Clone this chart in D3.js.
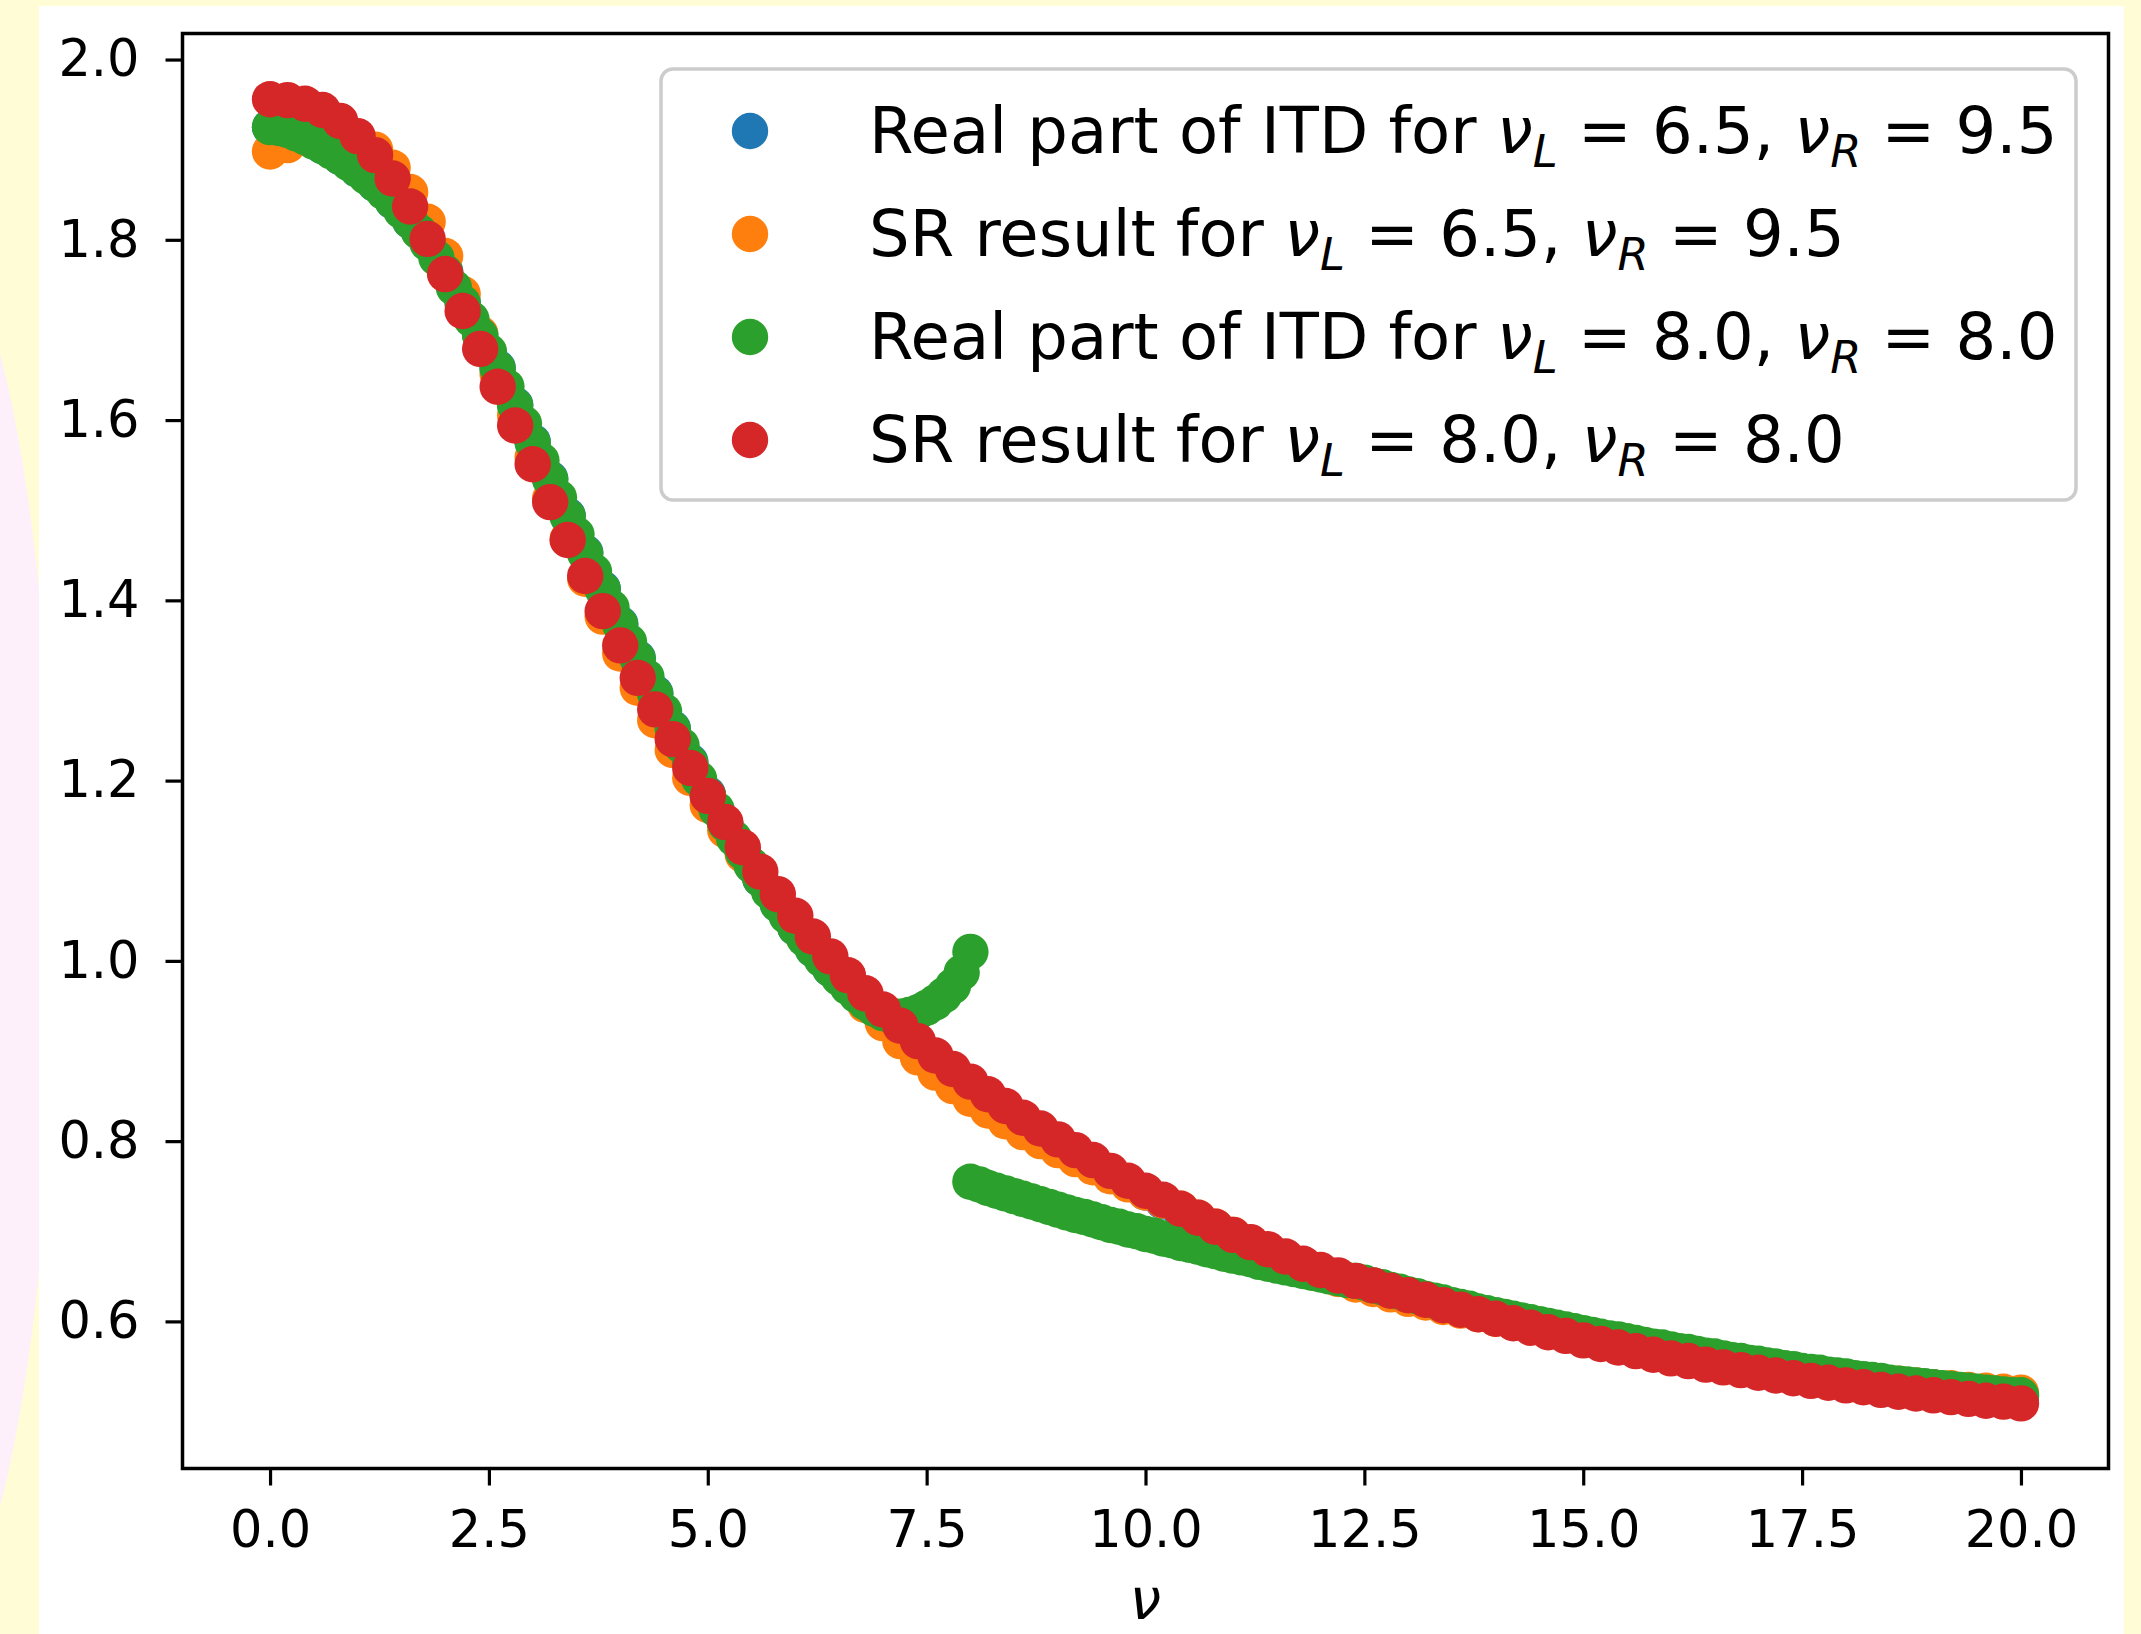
<!DOCTYPE html>
<html>
<head>
<meta charset="utf-8">
<script src="https://cdn.jsdelivr.net/npm/d3@7"></script>
<style>
body { margin: 0; background: #fffcd6; }
svg { display: block; }
text { font-family: "DejaVu Sans", sans-serif; fill: #000; }
</style>
</head>
<body>
<svg class="chartSvg" width="2141" height="1634"></svg>
<script>
// tick labels
var xTicks = [0, 2.5, 5, 7.5, 10, 12.5, 15, 17.5, 20];
var yTicks = [0.6, 0.8, 1.0, 1.2, 1.4, 1.6, 1.8, 2.0];

// Real part of ITD, nuL = 6.5, nuR = 9.5 (two pieces, 0..6.4 and 9.6..20, step 0.2)
var blueLowStart = 0, blueHighStart = 9.6, blueStep = 0.2;
var blueLow = [1.925,1.922,1.914,1.904,1.892,1.878,1.862,1.843,1.821,1.797,
               1.765,1.731,1.695,1.658,1.617,1.576,1.535,1.494,1.453,1.413,
               1.374,1.336,1.297,1.258,1.221,1.185,1.152,1.121,1.091,1.063,
               1.037,1.013,0.991];
var blueHigh = [0.765,0.754,0.743,0.733,0.723,0.713,0.704,0.695,0.687,0.679,
                0.671,0.663,0.656,0.650,0.644,0.639,0.634,0.629,0.624,0.619,
                0.614,0.609,0.604,0.599,0.595,0.590,0.586,0.582,0.578,0.574,
                0.570,0.567,0.563,0.560,0.557,0.554,0.551,0.548,0.545,0.542,
                0.540,0.537,0.535,0.533,0.530,0.528,0.526,0.524,0.522,0.521,
                0.519,0.517,0.516];

// SR result, nuL = 6.5, nuR = 9.5 (0..20, step 0.2)
var orangeStart = 0, orangeStep = 0.2;
var orangeVals = [1.898,1.905,1.915,1.921,1.920,1.913,1.900,1.880,1.853,1.820,
                  1.782,1.740,1.696,1.651,1.605,1.559,1.513,1.468,1.424,1.382,
                  1.341,1.303,1.267,1.234,1.203,1.173,1.145,1.118,1.092,1.067,
                  1.043,1.019,0.996,0.973,0.951,0.931,0.911,0.893,0.876,0.861,
                  0.847,0.834,0.822,0.810,0.800,0.790,0.780,0.771,0.761,0.752,
                  0.743,0.734,0.725,0.715,0.705,0.696,0.687,0.679,0.670,0.662,
                  0.654,0.647,0.641,0.636,0.630,0.625,0.621,0.616,0.612,0.608,
                  0.603,0.599,0.594,0.590,0.586,0.582,0.578,0.574,0.571,0.567,
                  0.564,0.561,0.557,0.554,0.552,0.549,0.546,0.544,0.541,0.539,
                  0.537,0.535,0.533,0.531,0.529,0.527,0.526,0.524,0.523,0.522,
                  0.521];

// Real part of ITD, nuL = nuR = 8.0 (0..8 and 8..20, step 0.1)
var greenLowStart = 0, greenHighStart = 8, greenStep = 0.1;
var greenLow = [1.925,1.924,1.922,1.918,1.914,1.909,1.904,1.898,1.892,1.885,
                1.878,1.870,1.862,1.853,1.843,1.832,1.821,1.809,1.796,1.780,
                1.764,1.747,1.730,1.712,1.694,1.676,1.657,1.637,1.616,1.596,
                1.575,1.555,1.534,1.514,1.493,1.473,1.452,1.432,1.412,1.392,
                1.373,1.354,1.335,1.315,1.296,1.277,1.257,1.239,1.220,1.202,
                1.184,1.168,1.152,1.136,1.121,1.106,1.091,1.077,1.063,1.050,
                1.037,1.025,1.013,1.002,0.991,0.981,0.971,0.962,0.954,0.947,
                0.942,0.939,0.938,0.940,0.943,0.948,0.954,0.962,0.972,0.987,
                1.010];
var greenHigh = [0.755,0.752,0.748,0.745,0.742,0.739,0.736,0.733,0.730,0.727,
                 0.724,0.721,0.718,0.716,0.713,0.710,0.707,0.705,0.702,0.700,
                 0.697,0.695,0.692,0.690,0.687,0.685,0.683,0.680,0.678,0.675,
                 0.673,0.671,0.669,0.666,0.664,0.662,0.660,0.658,0.656,0.654,
                 0.652,0.650,0.648,0.646,0.645,0.643,0.640,0.638,0.635,0.633,
                 0.630,0.628,0.625,0.623,0.621,0.618,0.616,0.614,0.611,0.609,
                 0.607,0.605,0.603,0.601,0.599,0.597,0.595,0.593,0.591,0.589,
                 0.587,0.585,0.583,0.581,0.580,0.578,0.576,0.574,0.572,0.571,
                 0.569,0.567,0.566,0.564,0.562,0.561,0.559,0.557,0.556,0.554,
                 0.553,0.551,0.550,0.548,0.547,0.545,0.544,0.543,0.541,0.540,
                 0.539,0.537,0.536,0.535,0.534,0.532,0.531,0.530,0.529,0.528,
                 0.527,0.526,0.525,0.524,0.523,0.522,0.521,0.520,0.519,0.518,
                 0.518];

// SR result, nuL = nuR = 8.0 (0..20, step 0.2)
var redStart = 0, redStep = 0.2;
var redVals = [1.956,1.955,1.951,1.944,1.932,1.915,1.894,1.868,1.837,1.801,
               1.762,1.721,1.679,1.637,1.594,1.551,1.509,1.467,1.427,1.388,
               1.350,1.314,1.279,1.246,1.214,1.183,1.154,1.126,1.099,1.074,
               1.050,1.027,1.005,0.984,0.964,0.946,0.928,0.911,0.895,0.880,
               0.866,0.852,0.839,0.826,0.814,0.802,0.790,0.779,0.767,0.756,
               0.745,0.735,0.725,0.715,0.705,0.696,0.688,0.680,0.672,0.664,
               0.657,0.651,0.645,0.640,0.634,0.629,0.624,0.618,0.613,0.608,
               0.603,0.598,0.593,0.588,0.584,0.579,0.575,0.571,0.567,0.563,
               0.559,0.556,0.552,0.549,0.546,0.543,0.540,0.537,0.534,0.532,
               0.529,0.527,0.524,0.522,0.520,0.518,0.516,0.514,0.512,0.511,
               0.509];

var legendNames = ["Real part of ITD for", "SR result for", "Real part of ITD for", "SR result for"];
var legendNuL = ["6.5", "6.5", "8.0", "8.0"];
var legendNuR = ["9.5", "9.5", "8.0", "8.0"];
var colors = ["#1f77b4", "#ff7f0e", "#2ca02c", "#d62728"];

var W = 2141, H = 1634;
var margin = {top: 33.5, right: W - 2108.5, bottom: H - 1468.5, left: 182.5},
    width = W - margin.left - margin.right,
    height = H - margin.top - margin.bottom;
var dotR = 18.2;

function toPoints(start, step, vals) {
    return vals.map(function(v, i) {
        return {nu: Math.round((start + i * step) * 100) / 100, value: v};
    });
}

var series = [
    {color: colors[0], pts: toPoints(blueLowStart, blueStep, blueLow).concat(toPoints(blueHighStart, blueStep, blueHigh))},
    {color: colors[1], pts: toPoints(orangeStart, orangeStep, orangeVals)},
    {color: colors[2], pts: toPoints(greenLowStart, greenStep, greenLow).concat(toPoints(greenHighStart, greenStep, greenHigh))},
    {color: colors[3], pts: toPoints(redStart, redStep, redVals)}
];

var root = d3.select(".chartSvg");

// page decoration behind the figure
root.append("rect").attr("width", W).attr("height", H).attr("fill", "#fffcd6");
root.append("ellipse")
    .attr("cx", -72).attr("cy", 930).attr("rx", 127).attr("ry", 700)
    .attr("fill", "#fdf0fa");
root.append("rect")
    .attr("x", 39).attr("y", 6).attr("width", 2124 - 39).attr("height", H - 6)
    .attr("fill", "#ffffff");

var svg = root.append("g")
    .attr("transform", "translate(" + margin.left + "," + margin.top + ")");

var x = d3.scaleLinear().domain([-1, 21]).range([0, width]);
var y = d3.scaleLinear().domain([0.4368, 2.0289]).range([height, 0]);

var xAxis = d3.axisBottom(x).tickValues(xTicks).tickSize(17).tickPadding(25)
    .tickFormat(d3.format(".1f"));
var yAxis = d3.axisLeft(y).tickValues(yTicks).tickSize(17).tickPadding(26)
    .tickFormat(d3.format(".1f"));

// scatter layers, in plotting order
series.forEach(function(s) {
    svg.append("g")
        .selectAll("circle")
        .data(s.pts)
        .enter().append("circle")
        .attr("cx", function(d) { return x(d.nu); })
        .attr("cy", function(d) { return y(d.value); })
        .attr("r", dotR)
        .attr("fill", s.color);
});

var gx = svg.append("g")
    .attr("class", "x axis")
    .attr("transform", "translate(0," + height + ")")
    .call(xAxis);
var gy = svg.append("g")
    .attr("class", "y axis")
    .call(yAxis);

[gx, gy].forEach(function(g) {
    g.select(".domain").remove();
    g.selectAll(".tick line").attr("stroke", "#000").attr("stroke-width", 3.2);
    g.selectAll(".tick text")
        .style("font-family", "'DejaVu Sans', sans-serif")
        .style("font-size", "51px")
        .attr("fill", "#000");
});

// spines
svg.append("rect")
    .attr("width", width).attr("height", height)
    .attr("fill", "none").attr("stroke", "#000").attr("stroke-width", 3.5);

// x label (kept just inside the bottom edge)
svg.append("text")
    .attr("x", width / 2)
    .attr("y", H - margin.top - 15)
    .attr("text-anchor", "middle")
    .style("font-size", "56px")
    .style("font-style", "italic")
    .text("ν");

// legend
var legend = root.append("g").attr("class", "legend");
legend.append("rect")
    .attr("x", 661).attr("y", 69)
    .attr("width", 2076 - 661).attr("height", 500 - 69)
    .attr("rx", 12).attr("ry", 12)
    .attr("fill", "#ffffff").attr("fill-opacity", 0.8)
    .attr("stroke", "#cccccc").attr("stroke-width", 3.5);

var fs = 64;
var rows = legend.selectAll(".lineLegend")
    .data(legendNames)
    .enter().append("g")
    .attr("class", "lineLegend")
    .attr("transform", function(d, i) { return "translate(750," + (131 + i * 103) + ")"; });

rows.append("circle")
    .attr("r", dotR)
    .attr("fill", function(d, i) { return colors[i]; });

rows.each(function(d, i) {
    var t = d3.select(this).append("text")
        .attr("x", 119)
        .attr("y", fs * 0.34)
        .style("font-size", fs + "px");
    t.append("tspan").text(d + " ");
    t.append("tspan").style("font-style", "italic").text("ν");
    t.append("tspan").style("font-style", "italic").style("font-size", (fs * 0.7) + "px")
        .attr("dy", fs * 0.22).text("L");
    t.append("tspan").attr("dy", -fs * 0.22).text(" = " + legendNuL[i] + ",  ");
    t.append("tspan").style("font-style", "italic").text("ν");
    t.append("tspan").style("font-style", "italic").style("font-size", (fs * 0.7) + "px")
        .attr("dy", fs * 0.22).text("R");
    t.append("tspan").attr("dy", -fs * 0.22).text(" = " + legendNuR[i]);
});
</script>
</body>
</html>
